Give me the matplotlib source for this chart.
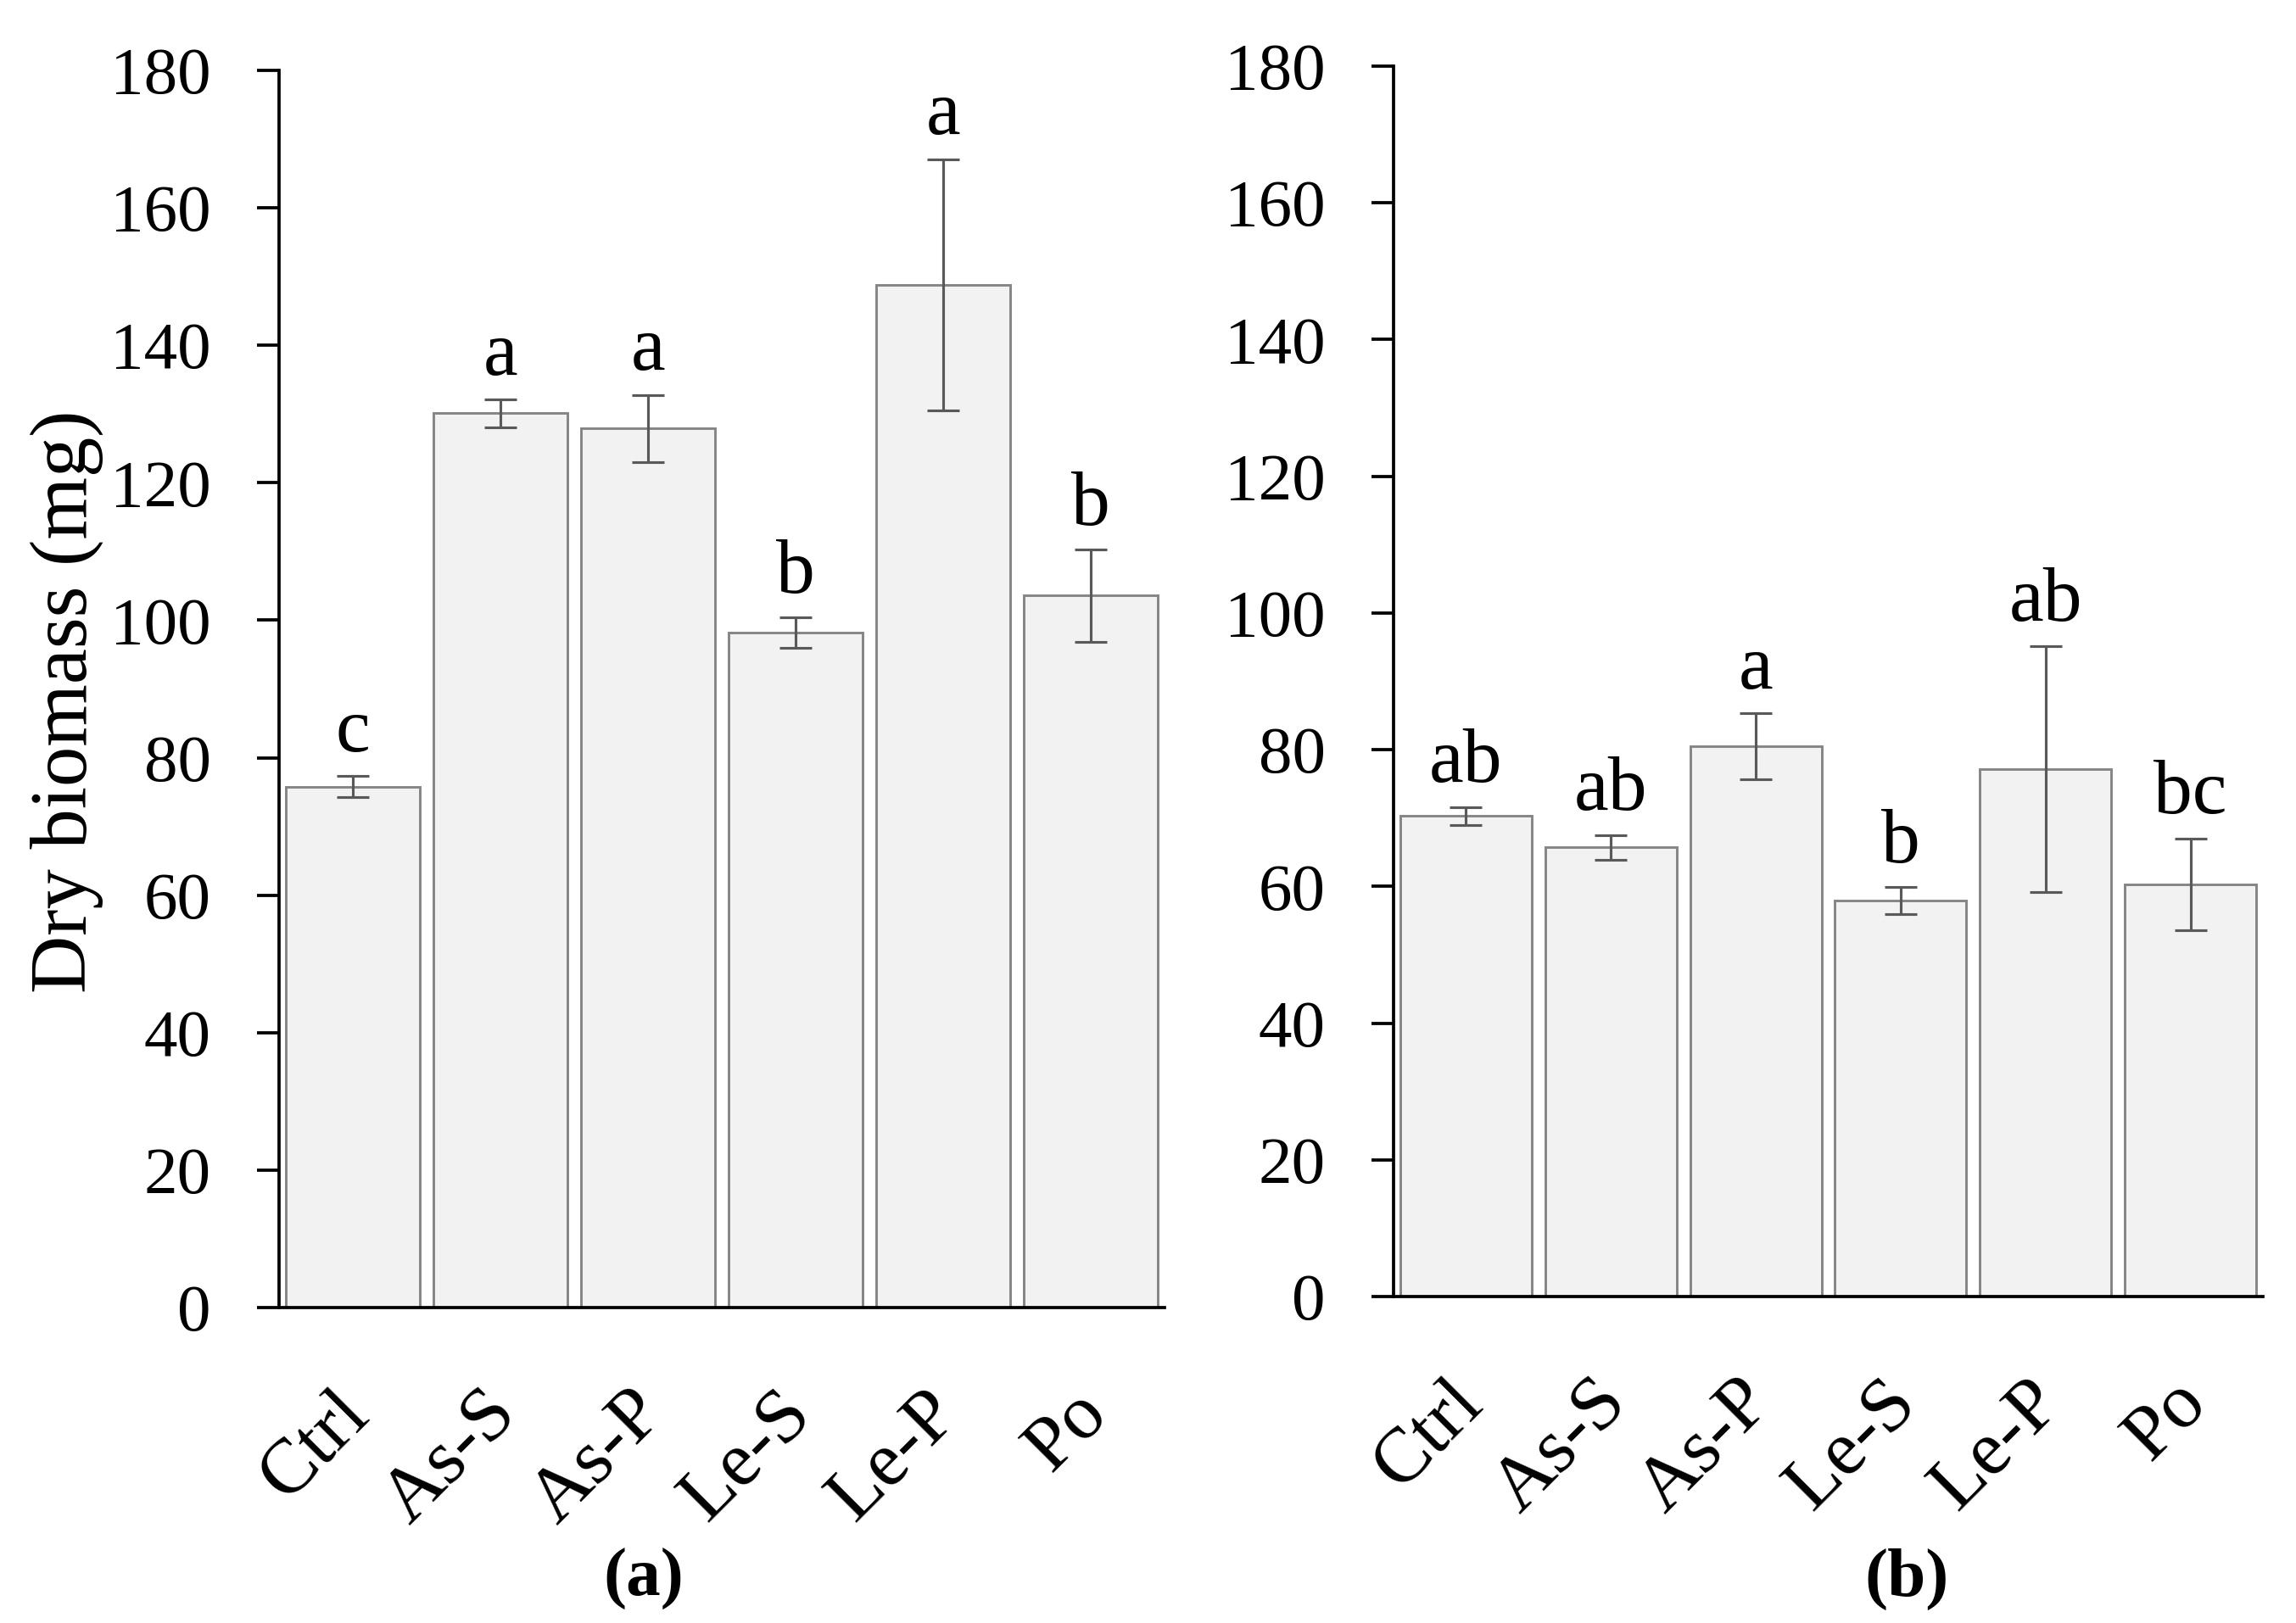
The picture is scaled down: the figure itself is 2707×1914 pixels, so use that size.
import numpy as np
import matplotlib.pyplot as plt
from matplotlib.transforms import ScaledTranslation

plt.rcParams['font.family'] = ['Liberation Serif', 'DejaVu Serif']

treatments = ['Ctrl', 'As-S', 'As-P', 'Le-S', 'Le-P', 'Po']

# panel (a)
biomass_a = [75.8, 130.1, 127.9, 98.2, 148.8, 103.6]
err_a = [1.5, 2.0, 4.9, 2.2, 18.3, 6.7]
letters_a = ['c', 'a', 'a', 'b', 'a', 'b']

# panel (b)
biomass_b = [70.3, 65.7, 80.5, 57.9, 77.2, 60.3]
err_b = [1.3, 1.8, 4.8, 2.0, 18.0, 6.7]
letters_b = ['ab', 'ab', 'a', 'b', 'ab', 'bc']


def bar_panel(ax, values, errors, letters):
    x = np.arange(len(treatments))
    ax.bar(x, values, width=0.907, color='#f2f2f2', edgecolor='#858585',
           linewidth=0.7, zorder=2)
    ax.errorbar(x, values, yerr=errors, fmt='none', ecolor='#595959',
                elinewidth=0.75, capsize=4.5, capthick=0.75, zorder=3)
    for xi, v, e, s in zip(x, values, errors, letters):
        ax.annotate(s, (xi, v + e), xytext=(0, 2.5), textcoords='offset points',
                    ha='center', va='bottom', fontsize=22)

    ax.set_xlim(-0.5, 5.5)
    ax.set_ylim(0, 180)
    ax.set_yticks(np.arange(0, 181, 20))
    ax.tick_params(axis='y', direction='out', length=6.3, width=0.9,
                   pad=13, labelsize=19)
    ax.set_xticks(x)
    ax.set_xticklabels(treatments, rotation=45, ha='right', va='center',
                       rotation_mode='anchor', fontsize=22)
    ax.tick_params(axis='x', length=0, pad=27)
    for lab in ax.get_xticklabels():
        lab.set_transform(lab.get_transform() +
                          ScaledTranslation(0.02, 0, ax.figure.dpi_scale_trans))
    for side in ['top', 'right']:
        ax.spines[side].set_visible(False)
    for side in ['left', 'bottom']:
        ax.spines[side].set_linewidth(0.9)


fig = plt.figure(figsize=(2707 / 300, 1914 / 300), dpi=300)
ax1 = fig.add_axes([0.12154, 0.19436, 0.38567, 0.76228])
ax2 = fig.add_axes([0.60695, 0.20115, 0.37865, 0.75810])

bar_panel(ax1, biomass_a, err_a, letters_a)
bar_panel(ax2, biomass_b, err_b, letters_b)

ax1.set_ylabel('Dry biomass (mg)', fontsize=22.7)
ax1.yaxis.set_label_coords(-0.198, 0.49)

fig.text(0.2804, 0.027, '(a)', ha='center', va='center', fontsize=19.5, fontweight='bold')
fig.text(0.8304, 0.027, '(b)', ha='center', va='center', fontsize=19.5, fontweight='bold')

fig.savefig('out.png', dpi=300)
